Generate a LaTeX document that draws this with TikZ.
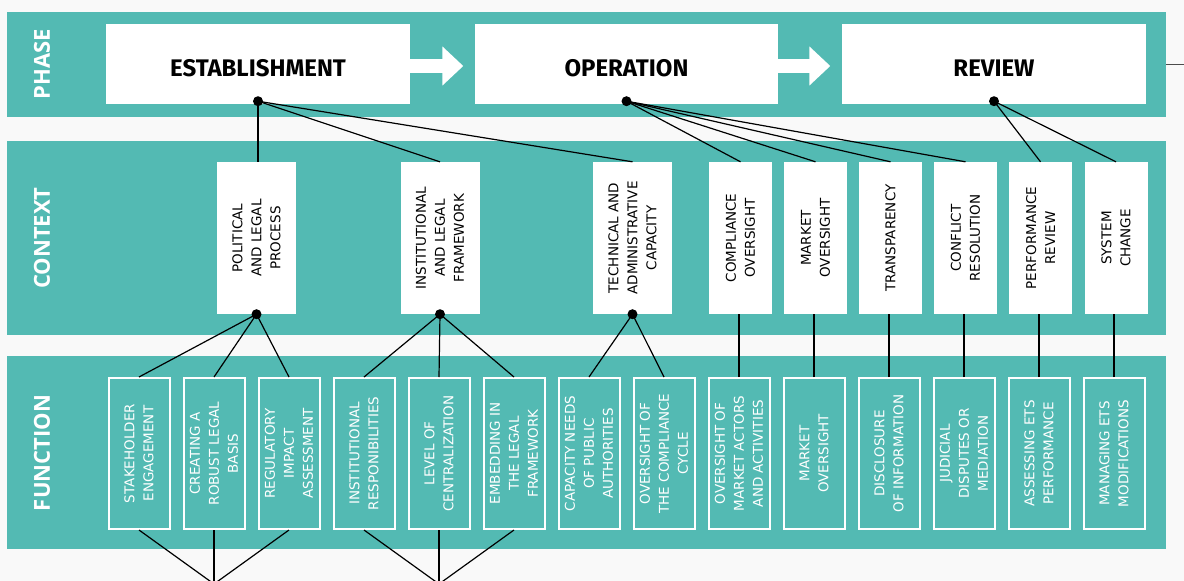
\documentclass[tikz,border=0pt]{standalone}
\usepackage{fontspec}
\setmainfont{DejaVu Sans}
\newfontfamily\phasefont{Fira Sans}
\newfontfamily\bandfont{Open Sans}
\usetikzlibrary{arrows.meta}
\definecolor{bandteal}{RGB}{83,186,179}
\definecolor{paper}{RGB}{249,249,249}

\begin{document}
\begin{tikzpicture}[x=1pt,y=-1pt,
  band/.style={fill=bandteal,inner sep=0pt,minimum width=1159pt,minimum height=#1,anchor=north west},
  bandlabel/.style={rotate=90,text=white,font=\bandfont\bfseries\fontsize{22}{24}\selectfont},
  phasebox/.style={fill=white,inner sep=0pt,minimum width=304pt,minimum height=80pt,font=\phasefont\bfseries\fontsize{24}{26}\selectfont},
  phasetext/.style={font=\phasefont\bfseries\fontsize{24}{26}\selectfont,inner sep=0pt},
  ctxbox/.style={fill=white,rotate=90,inner sep=0pt,minimum width=152pt,minimum height=#1,align=center,font=\fontsize{13.5}{19}\selectfont},
  ctxbox/.default=63pt,
  fnbox/.style={draw=white,line width=2pt,rotate=90,inner sep=0pt,minimum width=151pt,minimum height=61pt,align=center,text=white,font=\fontsize{13.5}{19}\selectfont},
  link/.style={line width=1.2pt},
  stepin/.style={line width=14pt,white,shorten >=11.5pt,-{Triangle[length=21pt,width=38pt]}},
  dot/.style={fill,circle,inner sep=0pt,minimum size=10pt}]

\useasboundingbox (0,0) rectangle (1184,581);
\fill[paper] (0,0) rectangle (1184,581);

% bands
\node[band=104.7pt] (phaseband) at (7,12) {};
\node[band=194pt] (ctxband) at (7,141) {};
\node[band=193pt] (fnband) at (7,356) {};
\draw[gray!60!black,line width=1pt] (phaseband.east) -- ++(20,0);

\node[bandlabel] (phaselbl) at (42,64) {PHASE};
\node[bandlabel] (ctxlbl) at (42,238) {CONTEXT};
\node[bandlabel] (fnlbl) at (42,453) {FUNCTION};

% phase
\node[phasebox] (est) at (258,64) {};
\node[phasebox,minimum width=303pt] (op) at (626.5,64) {};
\node[phasebox] (rev) at (994,64) {};
\node[phasetext] (esttxt) at ([yshift=-4pt]est.center) {ESTABLISHMENT};
\node[phasetext] (optxt) at ([yshift=-4pt]op.center) {OPERATION};
\node[phasetext] (revtxt) at ([yshift=-4pt]rev.center) {REVIEW};
\draw[stepin] ([yshift=-2pt]est.east) -- ([yshift=-2pt]op.west);
\draw[stepin] ([yshift=-2pt]op.east) -- ([yshift=-2pt]rev.west);

% context
\node[ctxbox=79pt] (pol) at (256.5,238) {POLITICAL\\AND LEGAL\\PROCESS};
\node[ctxbox=79pt] (inst) at (440,238) {INSTITUTIONAL\\AND LEGAL\\FRAMEWORK};
\node[ctxbox=79pt] (tech) at (632.5,238) {TECHNICAL AND\\ADMINISTRATIVE\\CAPACITY};
\node[ctxbox] (comp) at (740.5,238) {COMPLIANCE\\OVERSIGHT};
\node[ctxbox] (mkt) at (815.5,238) {MARKET\\OVERSIGHT};
\node[ctxbox] (transp) at (890.5,238) {TRANSPARENCY};
\node[ctxbox] (confl) at (965.5,238) {CONFLICT\\RESOLUTION};
\node[ctxbox] (perf) at (1040.5,238) {PERFORMANCE\\REVIEW};
\node[ctxbox] (sys) at (1116,238) {SYSTEM\\CHANGE};

% function
\node[fnbox] (stake) at (139,453.5) {STAKEHOLDER\\ENGAGEMENT};
\node[fnbox] (basis) at (214,453.5) {CREATING A\\ROBUST LEGAL\\BASIS};
\node[fnbox] (ria) at (289,453.5) {REGULATORY\\IMPACT\\ASSESSMENT};
\node[fnbox] (resp) at (364,453.5) {INSTITUTIONAL\\RESPONIBILITIES};
\node[fnbox] (central) at (439,453.5) {LEVEL OF\\CENTRALIZATION};
\node[fnbox] (embed) at (514,453.5) {EMBEDDING IN\\THE LEGAL\\FRAMEWORK};
\node[fnbox] (needs) at (589,453.5) {CAPACITY NEEDS\\OF PUBLIC\\AUTHORITIES};
\node[fnbox] (cycle) at (664,453.5) {OVERSIGHT OF\\THE COMPLIANCE\\CYCLE};
\node[fnbox] (actors) at (739,453.5) {OVERSIGHT OF\\MARKET ACTORS\\AND ACTIVITIES};
\node[fnbox] (mktov) at (814,453.5) {MARKET\\OVERSIGHT};
\node[fnbox] (discl) at (889,453.5) {DISCLOSURE\\OF INFORMATION};
\node[fnbox] (judic) at (964,453.5) {JUDICIAL\\DISPUTES OR\\MEDIATION};
\node[fnbox] (assess) at (1039,453.5) {ASSESSING ETS\\PERFORMANCE};
\node[fnbox] (modif) at (1114,453.5) {MANAGING ETS\\MODIFICATIONS};

% links phase -> context
\node[dot] (estdot) at ([yshift=3pt]est.south) {};
\node[dot] (opdot) at ([yshift=3pt]op.south) {};
\node[dot] (revdot) at ([yshift=3pt]rev.south) {};
\draw[link] (estdot.center) -- (estdot.center |- pol.east);
\draw[link] (estdot.center) -- (inst.east);
\draw[link] (estdot.center) -- (tech.east);
\foreach \c in {comp,mkt,transp,confl} \draw[link] (opdot.center) -- (\c.east);
\foreach \c in {perf,sys} \draw[link] (revdot.center) -- (\c.east);

% links context -> function
\node[dot] (poldot) at (pol.west) {};
\node[dot] (instdot) at (inst.west) {};
\node[dot] (techdot) at (tech.west) {};
\foreach \f in {stake,basis,ria} \draw[link] (poldot.center) -- (\f.east);
\foreach \f in {resp,central,embed} \draw[link] (instdot.center) -- (\f.east);
\foreach \f in {needs,cycle} \draw[link] (techdot.center) -- (\f.east);
\draw[link] (actors.east) -- (actors.east |- comp.west);
\draw[link] (mktov.east) -- (mktov.east |- mkt.west);
\draw[link] (discl.east) -- (discl.east |- transp.west);
\draw[link] (judic.east) -- (judic.east |- confl.west);
\draw[link] (assess.east) -- (assess.east |- perf.west);
\draw[link] (modif.east) -- (modif.east |- sys.west);

% links below
\coordinate (polout) at (214,584);
\coordinate (instout) at (439,584);
\foreach \f in {stake,basis,ria} \draw[link] (\f.west) -- (polout);
\foreach \f in {resp,central,embed} \draw[link] (\f.west) -- (instout);

\end{tikzpicture}
\end{document}
